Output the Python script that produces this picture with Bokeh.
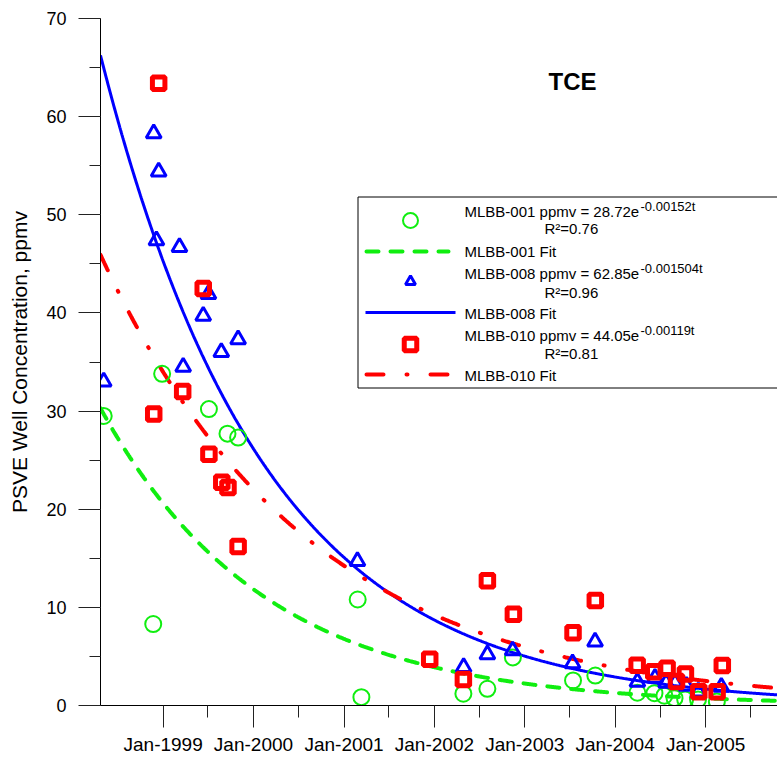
from datetime import datetime, timedelta
import numpy as np
from bokeh.plotting import figure
from bokeh.models import (Range1d, FixedTicker, SingleIntervalTicker,
                          DatetimeTickFormatter, Label)
from bokeh.embed import file_html
from bokeh.resources import INLINE

# ---------------- data ----------------
mlbb001_dates = ["1998-05-06", "1998-11-22", "1998-12-28", "1999-07-05", "1999-09-18",
                 "1999-10-31", "2001-02-25", "2001-03-12", "2002-04-28", "2002-08-03",
                 "2002-11-14", "2003-07-15", "2003-10-13", "2004-03-31", "2004-06-08",
                 "2004-07-18", "2004-08-28", "2004-10-10", "2004-12-01", "2005-02-15"]
mlbb001_ppmv = [29.5, 8.3, 33.8, 30.2, 27.7,
                27.3, 10.8, 0.85, 1.2, 1.7,
                4.9, 2.55, 3.05, 1.3, 1.25,
                1.0, 0.75, 0.6, 0.6, 0.4]

mlbb008_dates = ["1998-05-06", "1998-11-24", "1998-12-05", "1998-12-14", "1999-03-08",
                 "1999-03-23", "1999-06-12", "1999-07-03", "1999-08-24", "1999-10-31",
                 "2001-02-24", "2002-04-29", "2002-08-03", "2002-11-13", "2003-07-13",
                 "2003-10-12", "2004-03-31", "2004-06-10", "2004-07-25", "2004-08-30",
                 "2004-10-15", "2004-12-02", "2005-03-05"]
mlbb008_ppmv = [33.0, 58.3, 47.4, 54.4, 46.7,
                34.5, 39.7, 41.9, 36.0, 37.3,
                14.7, 3.9, 5.2, 5.6, 4.3,
                6.5, 2.4, 2.8, 2.3, 2.3,
                2.0, 1.4, 1.9]

mlbb010_dates = ["1998-11-24", "1998-12-14", "1999-03-21", "1999-06-12", "1999-07-05",
                 "1999-08-26", "1999-09-20", "1999-10-31", "2001-12-13", "2002-04-28",
                 "2002-08-03", "2002-11-16", "2003-07-15", "2003-10-13", "2004-03-30",
                 "2004-06-05", "2004-07-29", "2004-09-05", "2004-10-11", "2004-12-04",
                 "2005-02-16", "2005-03-09"]
mlbb010_ppmv = [29.7, 63.4, 32.0, 42.5, 25.6,
                22.75, 22.2, 16.2, 4.7, 2.65,
                12.7, 9.3, 7.4, 10.7, 4.1,
                3.45, 3.8, 2.45, 3.2, 1.4,
                1.4, 4.07]

fit_names = ["MLBB-001", "MLBB-008", "MLBB-010"]
fit_a = [28.72, 62.85, 44.05]
fit_k = [0.00152, 0.001504, 0.00119]
fit_k_text = ["-0.00152t", "-0.001504t", "-0.00119t"]
fit_a_text = ["28.72", "62.85", "44.05"]
fit_r2 = ["0.76", "0.96", "0.81"]
fit_t0 = "1998-05-28"

tick_years = [1999, 2000, 2001, 2002, 2003, 2004, 2005]
x_start = datetime(1998, 4, 23)
x_end = datetime(2005, 10, 18)
y_max = 70

# ---------------- helpers ----------------
def d(s):
    return datetime.strptime(s, "%Y-%m-%d")

def ms(dt):
    return (dt - datetime(1970, 1, 1)).total_seconds() * 1000.0

FONT = "Liberation Sans"
GREEN = "#10EE10"
BLUE = "#0000FF"
RED = "#FF0000"

p = figure(width=777, height=761, x_axis_type="datetime",
           x_range=Range1d(x_start, x_end), y_range=Range1d(0, y_max),
           output_backend="svg", toolbar_location=None,
           min_border_left=100, min_border_right=0, min_border_top=18,
           min_border_bottom=56)
p.outline_line_color = None
p.grid.visible = False
p.background_fill_color = "white"
p.border_fill_color = "white"

# pixel helper ranges for legend decoration
p.extra_x_ranges = {"px": Range1d(100, 777)}
p.extra_y_ranges = {"px": Range1d(705, 18)}

# axes
xa = p.xaxis[0]
xa.ticker = FixedTicker(ticks=[ms(datetime(y, 1, 1)) for y in tick_years],
                        minor_ticks=[ms(datetime(y, 7, 1)) for y in tick_years])
fmt = "%b-%Y"
xa.formatter = DatetimeTickFormatter(microseconds=fmt, milliseconds=fmt, seconds=fmt,
                                     minsec=fmt, minutes=fmt, hourmin=fmt, hours=fmt,
                                     days=fmt, months=fmt, years=fmt)
ya = p.yaxis[0]
ya.ticker = SingleIntervalTicker(interval=10, num_minor_ticks=2)
ya.axis_label = "PSVE Well Concentration, ppmv"
ya.axis_label_text_font = FONT
ya.axis_label_text_font_size = "21px"
ya.axis_label_text_font_style = "normal"
ya.axis_label_text_color = "black"
ya.axis_label_standoff = 12
for ax in (xa, ya):
    ax.axis_line_color = "black"
    ax.axis_line_width = 1
    ax.major_tick_line_color = "#222222"
    ax.minor_tick_line_color = "#222222"
    ax.major_tick_in = 0
    ax.minor_tick_in = 0
    ax.major_tick_out = 22
    ax.major_label_text_font = FONT
    ax.major_label_text_color = "black"
xa.major_label_text_font_size = "19px"
ya.major_label_text_font_size = "18px"
xa.minor_tick_out = 12
ya.minor_tick_out = 11
xa.major_label_standoff = 6
ya.major_label_standoff = 12

# fit curves
t0 = d(fit_t0)
n_days = (x_end - x_start).days
xs = [x_start + timedelta(days=i) for i in range(0, n_days + 1, 3)]
tt = np.array([(x - t0).days for x in xs], dtype=float)
fit_styles = [dict(color=GREEN, line_width=4, line_dash="12 12", line_cap="round"),
              dict(color=BLUE, line_width=3),
              dict(color=RED, line_width=4, line_dash="17 23 1 23", line_cap="round")]
for a, k, st in zip(fit_a, fit_k, fit_styles):
    p.line(xs, a * np.exp(-k * tt), **st)

# data points
p.scatter([d(s) for s in mlbb001_dates], mlbb001_ppmv, marker="circle", size=16,
          fill_color=None, line_color=GREEN, line_width=2)
p.scatter([d(s) for s in mlbb008_dates], mlbb008_ppmv, marker="triangle", size=15,
          fill_color=None, line_color=BLUE, line_width=3)
p.scatter([d(s) for s in mlbb010_dates], mlbb010_ppmv, marker="square", size=12.5,
          fill_color=None, line_color=RED, line_width=5)

# ---------------- custom legend (pixel coords) ----------------
R = dict(x_range_name="px", y_range_name="px")
p.quad(left=[357.5], right=[900], top=[196.5], bottom=[387.5], fill_color="white",
       line_color="black", line_width=1, **R)
p.scatter([410], [220], marker="circle", size=15, fill_color=None, line_color=GREEN,
          line_width=2, **R)
p.line([366, 448], [251, 251], **fit_styles[0], **R)
p.scatter([410], [281], marker="triangle", size=10, fill_color=None, line_color=BLUE,
          line_width=3, **R)
p.line([365, 455], [312, 312], **fit_styles[1], **R)
p.scatter([410], [344], marker="square", size=12.5, fill_color=None, line_color=RED,
          line_width=5, **R)
p.line([366, 455], [374, 374], **fit_styles[2], **R)

row_y = [211, 273, 335]
r2_y = [228, 292, 353]
fit_y = [251, 313, 375]
for i in range(3):
    p.add_layout(Label(x=464, y=row_y[i], text=f"{fit_names[i]} ppmv = {fit_a_text[i]}e",
                       text_font=FONT, text_font_size="15px", text_baseline="middle",
                       text_color="black", **R))
    p.add_layout(Label(x=640, y=row_y[i] - 5, text=fit_k_text[i],
                       text_font=FONT, text_font_size="13px", text_baseline="middle",
                       text_color="black", **R))
    p.add_layout(Label(x=544, y=r2_y[i], text=f"R\u00b2={fit_r2[i]}",
                       text_font=FONT, text_font_size="15px", text_baseline="middle",
                       text_color="black", **R))
    p.add_layout(Label(x=464, y=fit_y[i], text=f"{fit_names[i]} Fit",
                       text_font=FONT, text_font_size="15px", text_baseline="middle",
                       text_color="black", **R))

p.add_layout(Label(x=572, y=81, text="TCE", text_font=FONT, text_font_size="24px",
                   text_font_style="bold", text_align="center", text_baseline="middle",
                   text_color="black", **R))

with open("out.html", "w") as f:
    f.write(file_html(p, INLINE))
